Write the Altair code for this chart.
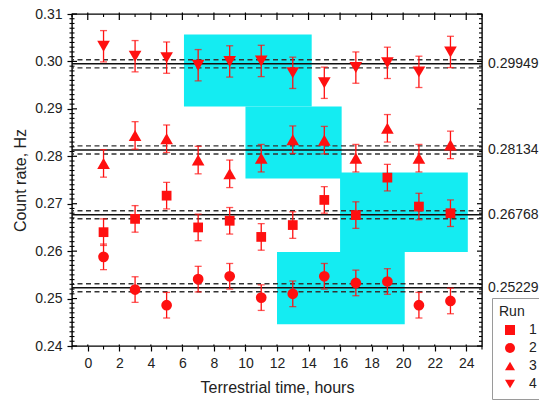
import altair as alt
import pandas as pd

# ---------------- data ----------------
hours = [1, 3, 5, 7, 9, 11, 13, 15, 17, 19, 21, 23]
run1 = [0.2640, 0.2668, 0.2717, 0.2650, 0.2664, 0.2630, 0.2655, 0.2708, 0.2676, 0.2755, 0.2694, 0.2680]
run2 = [0.2588, 0.2519, 0.2486, 0.2541, 0.2547, 0.2502, 0.2510, 0.2547, 0.2533, 0.2536, 0.2486, 0.2495]
run3 = [0.2785, 0.2844, 0.2837, 0.2792, 0.2763, 0.2796, 0.2835, 0.2834, 0.2796, 0.2859, 0.2796, 0.2824]
run4 = [0.3032, 0.3011, 0.3008, 0.2992, 0.3000, 0.3001, 0.2976, 0.2955, 0.2987, 0.2997, 0.2978, 0.3020]
run_names = ["1", "2", "3", "4"]
run_errors = [0.0028, 0.0027, 0.0029, 0.0033]
run_shapes = ["square", "circle", "triangle-up", "triangle-down"]
run_sizes = [95, 115, 160, 160]

levels = [0.29949, 0.28134, 0.26768, 0.25229]
level_labels = ["0.29949", "0.28134", "0.26768", "0.25229"]
level_sigma = 0.00085

box_x1 = [6.1, 10.0, 16.0, 12.0]
box_x2 = [14.2, 16.1, 24.1, 20.1]
box_y1 = [0.2905, 0.2753, 0.2598, 0.2446]
box_y2 = [0.3057, 0.2905, 0.2766, 0.2598]

x_ticks = [0, 2, 4, 6, 8, 10, 12, 14, 16, 18, 20, 22, 24]
x_minor = [-1, 1, 3, 5, 7, 9, 11, 13, 15, 17, 19, 21, 23, 25]
y_ticks = [0.24, 0.25, 0.26, 0.27, 0.28, 0.29, 0.30, 0.31]
y_minor = [round(0.24 + 0.001 * i, 3) for i in range(71) if i % 10 != 0]

# ---------------- tables ----------------
W, H = 410, 332
RED = "#ff1010"
CYAN = "#14ecf2"
FONT = "Liberation Sans"

rows = []
for name, vals, err in zip(run_names, [run1, run2, run3, run4], run_errors):
    for h, v in zip(hours, vals):
        rows.append({"hour": h, "rate": v, "lo": v - err, "hi": v + err, "run": name})
pts = pd.DataFrame(rows)

lv = pd.DataFrame({"y": levels, "label": level_labels,
                   "ylo": [v - level_sigma for v in levels],
                   "yhi": [v + level_sigma for v in levels]})
boxes = pd.DataFrame({"x1": box_x1, "x2": box_x2, "y1": box_y1, "y2": box_y2})
xmaj = pd.DataFrame({"v": x_ticks})
xmin = pd.DataFrame({"v": x_minor})
ymaj = pd.DataFrame({"v": y_ticks})
ymin = pd.DataFrame({"v": y_minor})

xs = alt.Scale(domain=[-1, 25], nice=False, zero=False)
ys = alt.Scale(domain=[0.24, 0.31], nice=False, zero=False)

x_axis = alt.Axis(values=x_ticks, title="Terrestrial time, hours", format="d",
                  labelOverlap=False)
y_axis = alt.Axis(values=y_ticks, title="Count rate, Hz", format=".2f",
                  labelOverlap=False)

rects = alt.Chart(boxes).mark_rect(color=CYAN, opacity=1).encode(
    x=alt.X("x1:Q", scale=xs, axis=x_axis), x2="x2:Q",
    y=alt.Y("y1:Q", scale=ys, axis=y_axis), y2="y2:Q")

solid = alt.Chart(lv).mark_rule(color="#111111", strokeWidth=1.5).encode(
    y=alt.Y("y:Q", scale=ys, axis=y_axis))
dash_lo = alt.Chart(lv).mark_rule(color="#333333", strokeWidth=1.4, strokeDash=[5, 3.5]).encode(
    y=alt.Y("ylo:Q", scale=ys, axis=y_axis))
dash_hi = alt.Chart(lv).mark_rule(color="#333333", strokeWidth=1.4, strokeDash=[5, 3.5]).encode(
    y=alt.Y("yhi:Q", scale=ys, axis=y_axis))

bars = alt.Chart(pts).mark_rule(color=RED, strokeWidth=1.3).encode(
    x=alt.X("hour:Q", scale=xs, axis=x_axis), y=alt.Y("lo:Q", scale=ys, axis=y_axis), y2="hi:Q")
cap_lo = alt.Chart(pts).mark_tick(color=RED, orient="horizontal", size=7, thickness=1.3).encode(
    x=alt.X("hour:Q", scale=xs, axis=x_axis), y=alt.Y("lo:Q", scale=ys, axis=y_axis))
cap_hi = alt.Chart(pts).mark_tick(color=RED, orient="horizontal", size=7, thickness=1.3).encode(
    x=alt.X("hour:Q", scale=xs, axis=x_axis), y=alt.Y("hi:Q", scale=ys, axis=y_axis))

legend = alt.Legend(title="Run", orient="none", legendX=420, legendY=284,
                    strokeColor="#9a9a9a", fillColor="white", padding=7,
                    titleFontSize=14, labelFontSize=14, titleFont=FONT,
                    labelFont=FONT, titleFontWeight="normal",
                    titleColor="#222222", labelColor="#222222",
                    symbolSize=100, rowPadding=2, titlePadding=4,
                    symbolOffset=4, labelOffset=12,
                    symbolFillColor=RED, symbolStrokeColor=RED)

point_layers = []
for name, s in zip(run_names, run_sizes):
    point_layers.append(
        alt.Chart(pts).transform_filter(alt.datum.run == name)
        .mark_point(filled=True, color=RED, opacity=1, size=s)
        .encode(x=alt.X("hour:Q", scale=xs, axis=x_axis),
                y=alt.Y("rate:Q", scale=ys, axis=y_axis),
                shape=alt.Shape("run:N", scale=alt.Scale(domain=run_names, range=run_shapes),
                                legend=legend)))

labels = alt.Chart(lv).mark_text(align="left", baseline="middle", font=FONT, fontSize=14,
                                 color="#222222").encode(
    x=alt.value(W + 6), y=alt.Y("y:Q", scale=ys, axis=y_axis), text="label:N")

# hand-drawn tick marks (minor ticks, inner ticks and mirrored top/right ticks)
def yrule(df, a, b, w=1.1):
    return alt.Chart(df).mark_rule(color="black", strokeWidth=w).encode(
        y=alt.Y("v:Q", scale=ys, axis=y_axis), x=alt.value(a), x2=alt.value(b))

def xrule(df, a, b, w=1.1):
    return alt.Chart(df).mark_rule(color="black", strokeWidth=w).encode(
        x=alt.X("v:Q", scale=xs, axis=x_axis), y=alt.value(a), y2=alt.value(b))

ticks = [
    yrule(ymin, -2.5, 2.5), yrule(ymaj, 0, 5, 1.2),
    yrule(ymin, W - 3, W), yrule(ymaj, W - 5, W, 1.2),
    xrule(xmin, H, H + 3.5), xrule(xmaj, H - 1.5, H, 1.2),
    xrule(xmin, 0, 3), xrule(xmaj, -1.5, 6, 1.2),
]

chart = alt.layer(rects, dash_lo, dash_hi, solid, bars, cap_lo, cap_hi, *point_layers, labels, *ticks).properties(
    width=W, height=H,
    autosize=alt.AutoSizeParams(type="none"),
    padding={"left": 72, "top": 14, "right": 539 - 72 - W, "bottom": 401 - 14 - H},
).configure_view(
    stroke="black", strokeWidth=1.4
).configure_axis(
    domain=False, grid=False, ticks=True, tickSize=5, tickWidth=1.2, tickColor="black",
    labelFont=FONT, labelFontSize=14, labelColor="#222222", labelPadding=5,
    titleFont=FONT, titleFontSize=16, titleFontWeight="normal", titleColor="#222222",
    labelOverlap=False,
).configure_axisX(titlePadding=9).configure_axisY(titlePadding=6)

chart.save("out.html", embed_options={"renderer": "svg", "actions": False})
